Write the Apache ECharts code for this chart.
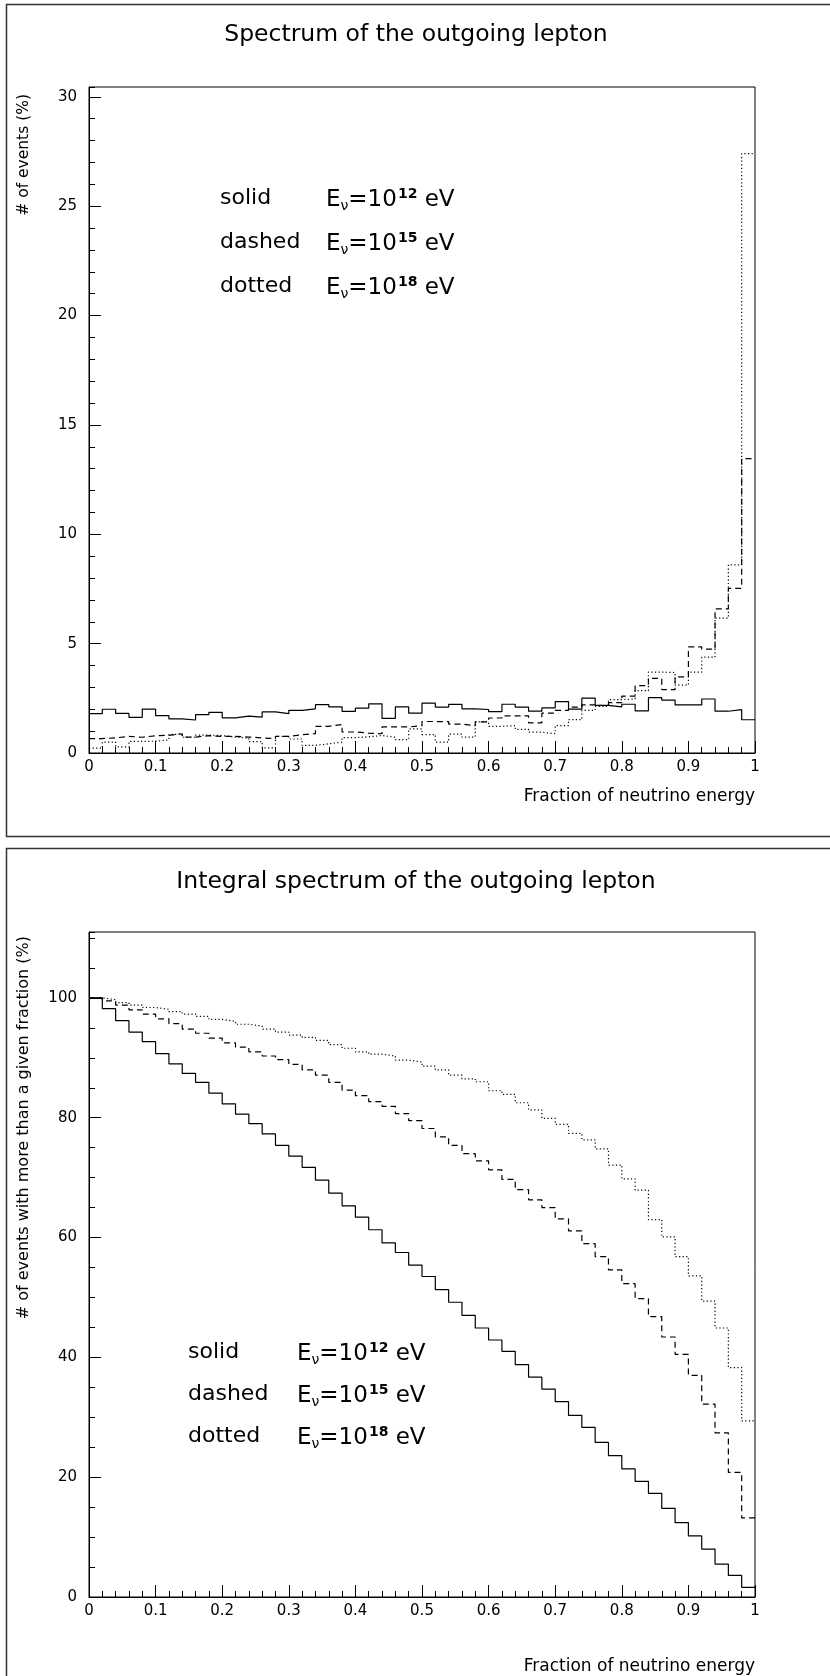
<!DOCTYPE html>
<html>
<head>
<meta charset="utf-8">
<script src="https://cdn.jsdelivr.net/npm/echarts@6/dist/echarts.min.js"></script>
<style>
  html, body { margin: 0; padding: 0; background: #fff; }
  #chart { width: 830px; height: 1676px; }
</style>
</head>
<body>
<div id="chart"></div>
<script>
// 50 bins of width 0.02 between 0 and 1
const BIN_WIDTH = 0.02

// differential spectrum, % of events per bin
const diffSolid = [1.80, 2.00, 1.81, 1.63, 2.01, 1.71, 1.56, 1.51, 1.75, 1.86,
  1.61, 1.69, 1.64, 1.88, 1.80, 1.95, 2.02, 2.21, 2.11, 1.90,
  2.05, 2.25, 1.58, 2.11, 1.82, 2.28, 2.10, 2.22, 2.02, 1.99,
  1.89, 2.23, 2.10, 1.91, 2.06, 2.35, 2.01, 2.51, 2.18, 2.11,
  2.23, 1.93, 2.53, 2.42, 2.20, 2.20, 2.47, 1.91, 1.98, 1.52]
const diffDashed = [0.66, 0.69, 0.76, 0.72, 0.79, 0.81, 0.88, 0.73, 0.79, 0.76,
  0.76, 0.73, 0.69, 0.66, 0.76, 0.84, 0.88, 1.22, 1.30, 0.96,
  0.91, 0.88, 1.19, 1.19, 1.25, 1.44, 1.43, 1.32, 1.25, 1.42,
  1.60, 1.70, 1.70, 1.38, 1.82, 1.95, 2.10, 2.20, 2.15, 2.30,
  2.60, 3.08, 3.41, 2.90, 3.48, 4.85, 4.75, 6.59, 7.53, 13.46]
const diffDotted = [0.22, 0.50, 0.28, 0.53, 0.54, 0.60, 0.85, 0.72, 0.82, 0.80,
  0.72, 0.68, 0.52, 0.23, 0.76, 0.64, 0.35, 0.42, 0.50, 0.70,
  0.74, 0.80, 0.72, 0.61, 1.10, 0.84, 0.50, 0.86, 0.73, 1.42,
  1.22, 1.25, 1.08, 0.95, 0.88, 1.25, 1.53, 1.95, 2.13, 2.44,
  2.47, 2.85, 3.70, 3.68, 3.10, 3.70, 4.38, 6.17, 8.60, 27.40]

// integral spectrum, % of events with more than a given fraction
const intSolid = [100, 98.2, 96.2, 94.3, 92.7, 90.7, 89.0, 87.4, 85.9, 84.1,
  82.3, 80.6, 79.0, 77.3, 75.4, 73.6, 71.7, 69.6, 67.4, 65.3,
  63.4, 61.3, 59.1, 57.5, 55.4, 53.5, 51.3, 49.2, 47.0, 44.9,
  42.9, 41.0, 38.8, 36.7, 34.7, 32.6, 30.3, 28.3, 25.8, 23.6,
  21.4, 19.3, 17.3, 14.8, 12.4, 10.2, 8.0, 5.5, 3.6, 1.6]
const intDashed = [100, 99.5, 98.8, 98.0, 97.3, 96.5, 95.7, 94.8, 94.1, 93.3,
  92.5, 91.8, 91.0, 90.3, 89.7, 88.9, 88.0, 87.1, 85.9, 84.6,
  83.7, 82.7, 81.9, 80.7, 79.5, 78.2, 76.8, 75.4, 74.0, 72.8,
  71.3, 69.7, 68.0, 66.3, 65.0, 63.1, 61.1, 59.0, 56.8, 54.6,
  52.3, 49.8, 46.8, 43.4, 40.5, 37.0, 32.2, 27.4, 20.8, 13.2]
const intDotted = [100, 99.7, 99.2, 98.8, 98.4, 98.1, 97.7, 97.3, 96.9, 96.4,
  96.1, 95.6, 95.3, 94.8, 94.3, 93.8, 93.4, 92.9, 92.2, 91.6,
  91.0, 90.6, 90.3, 89.6, 89.3, 88.6, 88.0, 87.1, 86.5, 86.0,
  84.5, 83.9, 82.5, 81.3, 79.9, 78.9, 77.4, 76.3, 74.8, 72.1,
  69.8, 67.9, 63.0, 60.1, 56.8, 53.6, 49.4, 44.9, 38.3, 29.4]

const legendRows = [
  { style: 'solid', exp: '12' },
  { style: 'dashed', exp: '15' },
  { style: 'dotted', exp: '18' },
]
const titles = ['Spectrum of the outgoing lepton', 'Integral spectrum of the outgoing lepton']
const yNames = ['# of events (%)', '# of events with more than a given fraction (%)']
const xName = 'Fraction of neutrino energy'

const FONT = '"DejaVu Sans", sans-serif'
const dashTypes = { solid: 'solid', dashed: [6, 4], dotted: [1.2, 2.4] }

function steps(vals) {
  const pts = vals.map((v, i) => [+(i * BIN_WIDTH).toFixed(2), v])
  pts.push([1, vals[vals.length - 1]])
  return pts
}

function histo(vals, type, idx) {
  return {
    type: 'line', step: 'end', data: steps(vals), showSymbol: false, silent: true,
    xAxisIndex: idx, yAxisIndex: idx * 2,
    lineStyle: { color: '#000', width: 1.2, type: dashTypes[type] },
    animation: false,
  }
}

const grids = [
  { left: 89, top: 87, width: 666, height: 666 },
  { left: 89, top: 932, width: 666, height: 665 },
]

function xAxis(gi) {
  return {
    type: 'value', gridIndex: gi, min: 0, max: 1, interval: 0.1,
    axisLine: { onZero: false, lineStyle: { color: '#000', width: 1 } },
    axisTick: { inside: true, length: 12, lineStyle: { color: '#000' } },
    minorTick: { show: true, splitNumber: 5, length: 6, lineStyle: { color: '#000' } },
    splitLine: { show: false },
    axisLabel: { color: '#000', fontFamily: FONT, fontSize: 15, margin: 7,
      formatter: v => String(+v.toFixed(1)) },
  }
}

function yAxes(gi, max, major, minor) {
  return [{
    type: 'value', gridIndex: gi, min: 0, max: max, interval: major,
    axisLine: { show: true, lineStyle: { color: '#000', width: 1 } },
    axisTick: { inside: true, length: 12, lineStyle: { color: '#000' } },
    splitLine: { show: false },
    axisLabel: { color: '#000', fontFamily: FONT, fontSize: 15, margin: 12,
      showMaxLabel: false, formatter: v => (v % major === 0 ? String(v) : '') },
  }, {
    type: 'value', gridIndex: gi, min: 0, max: max, interval: minor, position: 'left',
    axisLine: { show: false },
    axisTick: { inside: true, length: 6, lineStyle: { color: '#000' } },
    splitLine: { show: false },
    axisLabel: { show: false },
  }]
}

function legend(x1, x2, y0, dy) {
  const out = []
  legendRows.forEach((r, i) => {
    const y = y0 + i * dy
    out.push({ type: 'text', left: x1, top: y - 13,
      style: { text: r.style, font: '22px ' + FONT, fill: '#000' } })
    out.push({ type: 'text', left: x2, top: y - 15, style: {
      text: '{a|E}{sub|ν}{a|=10}{sup|' + r.exp + '}{a| eV}',
      rich: {
        a: { fontSize: 23, fontFamily: FONT, lineHeight: 30, verticalAlign: 'middle' },
        sub: { fontSize: 14, fontFamily: FONT, lineHeight: 30, verticalAlign: 'bottom', padding: [0, 0, 2, 0] },
        sup: { fontSize: 14, fontFamily: FONT, fontWeight: 'bold', lineHeight: 30, verticalAlign: 'top', padding: [2, 0, 0, 1] },
      },
      fill: '#000' } })
  })
  return out
}

const chart = echarts.init(document.getElementById('chart'), null, { renderer: 'canvas' })
chart.setOption({
  backgroundColor: '#fff',
  animation: false,
  grid: grids.map(g => Object.assign({ show: true, borderColor: '#000', borderWidth: 1 }, g)),
  xAxis: [xAxis(0), xAxis(1)],
  yAxis: [...yAxes(0, 30.45, 5, 1), ...yAxes(1, 111, 20, 5)],
  series: [
    histo(diffSolid, 'solid', 0), histo(diffDashed, 'dashed', 0), histo(diffDotted, 'dotted', 0),
    histo(intSolid, 'solid', 1), histo(intDashed, 'dashed', 1), histo(intDotted, 'dotted', 1),
  ],
  graphic: [
    { type: 'rect', shape: { x: 6.5, y: 4.5, width: 840, height: 832 },
      style: { fill: 'none', stroke: '#333', lineWidth: 1.5 } },
    { type: 'rect', shape: { x: 6.5, y: 848.5, width: 840, height: 900 },
      style: { fill: 'none', stroke: '#333', lineWidth: 1.5 } },
    { type: 'text', x: 416, y: 35, style: { text: titles[0], font: '23.5px ' + FONT, fill: '#000',
      textAlign: 'center', textVerticalAlign: 'middle' } },
    { type: 'text', x: 416, y: 882, style: { text: titles[1], font: '23.5px ' + FONT, fill: '#000',
      textAlign: 'center', textVerticalAlign: 'middle' } },
    { type: 'text', x: 24, y: 94, rotation: Math.PI / 2, style: { text: yNames[0], font: '15.5px ' + FONT,
      fill: '#000', textAlign: 'right', textVerticalAlign: 'middle' } },
    { type: 'text', x: 24, y: 936, rotation: Math.PI / 2, style: { text: yNames[1], font: '16px ' + FONT,
      fill: '#000', textAlign: 'right', textVerticalAlign: 'middle' } },
    { type: 'text', x: 755, y: 797, style: { text: xName, font: '17px ' + FONT, fill: '#000',
      textAlign: 'right', textVerticalAlign: 'middle' } },
    { type: 'text', x: 755, y: 1667, style: { text: xName, font: '17px ' + FONT, fill: '#000',
      textAlign: 'right', textVerticalAlign: 'middle' } },
    ...legend(220, 326, 200, 44),
    ...legend(188, 297, 1354, 42),
  ],
})
</script>
</body>
</html>
